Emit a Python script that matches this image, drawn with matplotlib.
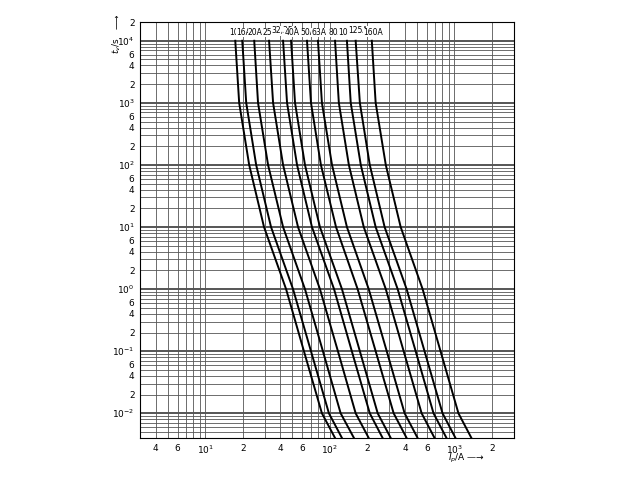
import numpy as np
import matplotlib
matplotlib.use("Agg")
import matplotlib.pyplot as plt

plt.rcParams['font.family'] = ['Liberation Sans Narrow', 'DejaVu Sans']
plt.rcParams['font.size'] = 6.5

# 溶断時間 [s]
t_vals = [1e4, 1e3, 1e2, 1e1, 1e0, 1e-1, 1e-2, 4e-3]

# 各ヒューズの電流 [A]
i_10A = [17.4, 18.7, 22.5, 29.6, 44.5, 61.9, 86.3, 110]
i_16A = [19.8, 21.3, 25.6, 33.7, 50.6, 70.5, 98.2, 125]
i_20A = [24.7, 26.5, 31.9, 42.1, 63.1, 87.9, 122, 156]
i_25A = [32.5, 35.0, 42.1, 55.5, 83.2, 116, 161, 205]
i_32A = [42.1, 45.3, 54.5, 71.8, 108, 150, 209, 265]
i_40A = [48.8, 52.5, 63.1, 83.2, 125, 174, 242, 308]
i_50A = [65.5, 70.5, 84.7, 112, 167, 233, 325, 413]
i_63A = [80.2, 86.3, 104, 137, 205, 286, 398, 506]
i_80A = [110, 118, 142, 187, 281, 391, 545, 692]
i_100A = [137, 147, 177, 233, 350, 488, 679, 863]
i_125A = [161, 174, 209, 275, 413, 575, 802, 1019]
i_160A = [217, 233, 281, 370, 555, 773, 1076, 1368]

curves = [i_10A, i_16A, i_20A, i_25A, i_32A, i_40A, i_50A, i_63A,
          i_80A, i_100A, i_125A, i_160A]
labels = ["10A", "16A", "20A", "25A", "32,35A", "40A", "50A", "63A",
          "80A", "100A", "125A", "160A"]
raised = ["32,35A", "125A"]

x_ticks = [4, 6, 10, 20, 40, 60, 100, 200, 400, 600, 1000, 2000]
x_ticklabels = ["4", "6", "$10^1$", "2", "4", "6", "$10^2$", "2", "4", "6", "$10^3$", "2"]
y_ticks = [1e-2, 2e-2, 4e-2, 6e-2, 1e-1, 2e-1, 4e-1, 6e-1, 1, 2, 4, 6,
           10, 20, 40, 60, 100, 200, 400, 600, 1e3, 2e3, 4e3, 6e3, 1e4, 2e4]
y_ticklabels = []
for v in y_ticks:
    e = int(np.floor(np.log10(v) + 1e-9))
    m = v / 10**e
    y_ticklabels.append("$10^{%d}$" % e if abs(m - 1) < 1e-6 else "%d" % round(m))

fig = plt.figure(figsize=(6.4, 4.8), dpi=100)
ax = fig.add_axes([0.219, 0.0875, 0.584, 0.8665])
ax.set_xscale('log')
ax.set_yscale('log')
ax.set_xlim(3, 3000)
ax.set_ylim(4e-3, 2e4)

# グリッド
for d in [1, 10, 100, 1000]:
    for k in range(1, 10):
        v = d * k
        if 3 <= v <= 3000:
            ax.axvline(v, color='#555555', lw=0.6, zorder=1)
for d in [1e-3, 1e-2, 1e-1, 1, 10, 100, 1e3, 1e4]:
    for k in range(1, 10):
        v = d * k
        if 4e-3 <= v <= 2e4:
            ax.axhline(v, color='#555555', lw=1.4 if k == 1 else 0.6, zorder=1)

for cur, lab in zip(curves, labels):
    ax.plot(cur, t_vals, color='black', lw=1.4, zorder=3,
            solid_joinstyle='round')
    if lab in raised:
        ax.text(cur[0] * 1.04, 1.45e4, lab, ha='center', va='center',
                fontsize=5.5, zorder=4,
                bbox=dict(facecolor='white', edgecolor='none', pad=0.2))
    else:
        ax.text(cur[0] * 1.02, 1.15e4, lab, ha='center', va='bottom',
                fontsize=5.5, zorder=4,
                bbox=dict(facecolor='white', edgecolor='none', pad=0.2))

ax.set_xticks(x_ticks)
ax.set_xticklabels(x_ticklabels)
ax.set_xticks([], minor=True)
ax.set_yticks(y_ticks)
ax.set_yticklabels(y_ticklabels)
ax.set_yticks([], minor=True)
ax.tick_params(length=0, pad=4)
for s in ax.spines.values():
    s.set_linewidth(0.8)

fig.text(0.183, 0.905, "$t_v$/s", rotation=90, ha='center', va='center', fontsize=6.5)
fig.text(0.183, 0.955, "\u2014\u2192", rotation=90, ha='center', va='center', fontsize=6)
fig.text(0.70, 0.045, "$I_p$/A \u2014\u2192", ha='left', va='center', fontsize=6.5)

fig.savefig("out.png", dpi=100)
